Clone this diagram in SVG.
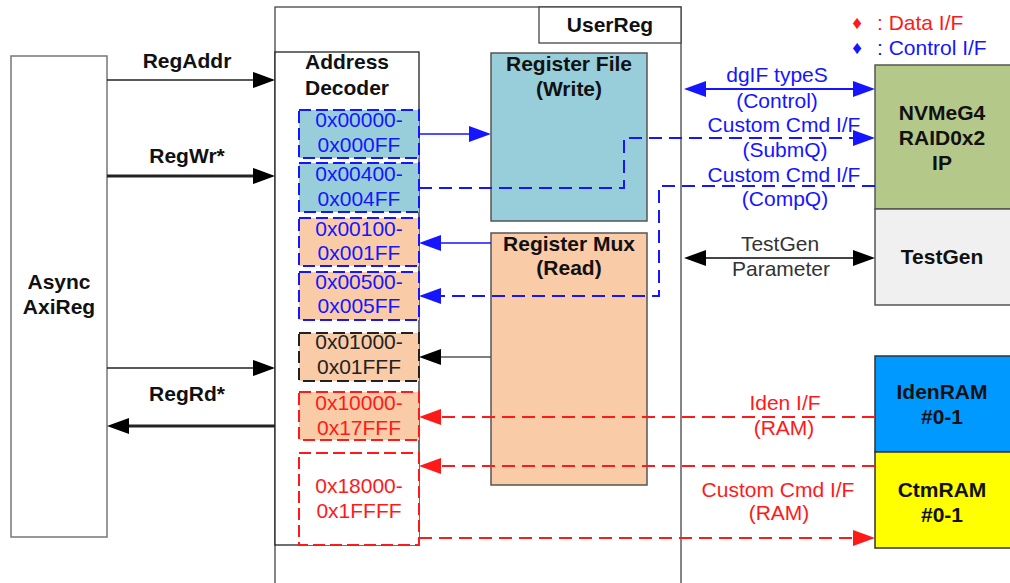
<svg xmlns="http://www.w3.org/2000/svg" width="1010" height="583" viewBox="0 0 1010 583">
<defs>
<style>
text{font-family:"Liberation Sans",Arial,sans-serif;font-size:21px}
.b{font-weight:bold;fill:#111}
.blue{fill:#1515FF}
.red{fill:#FF1A1A}
.gray{fill:#333}
.mid{text-anchor:middle}
.box{stroke:#555;stroke-width:1.5}
.lb{fill:#98CEDA}
.pe{fill:#FACBA7}
.dbb{stroke:#1515FF;stroke-width:2;stroke-dasharray:12,5;fill:none}
.dbk{stroke:#222;stroke-width:2;stroke-dasharray:12,5;fill:none}
.dbr{stroke:#FF1A1A;stroke-width:2;stroke-dasharray:12,5;fill:none}
.cb{stroke:#1515FF;fill:none}
.cr{stroke:#FF1A1A;fill:none}
.ck{stroke:#222;fill:none}
.dash{stroke-width:2;stroke-dasharray:13,7}
</style>
<marker id="ak" markerUnits="userSpaceOnUse" markerWidth="22" markerHeight="16" refX="12" refY="8" orient="auto-start-reverse"><path d="M0,0 L22,8 L0,16 z" fill="#000"/></marker>
<marker id="ab" markerUnits="userSpaceOnUse" markerWidth="22" markerHeight="16" refX="12" refY="8" orient="auto-start-reverse"><path d="M0,0 L22,8 L0,16 z" fill="#1515FF"/></marker>
<marker id="ar" markerUnits="userSpaceOnUse" markerWidth="22" markerHeight="16" refX="12" refY="8" orient="auto-start-reverse"><path d="M0,0 L22,8 L0,16 z" fill="#FF1A1A"/></marker>
</defs>
<rect width="1010" height="583" fill="#fff"/>

<g id="legend">
<text x="857" y="29" class="red mid" style="font-size:19px">♦</text>
<text x="877" y="30" class="red">: Data I/F</text>
<text x="857" y="54" class="blue mid" style="font-size:19px">♦</text>
<text x="877" y="55" class="blue">: Control I/F</text>
</g>

<g id="asyncaxireg">
<rect x="11" y="56" width="96" height="481" fill="#fff" stroke="#777" stroke-width="1.5"/>
<text x="59" y="289" class="b mid">Async</text>
<text x="59" y="314" class="b mid">AxiReg</text>
</g>

<g id="userreg">
<rect x="275" y="7" width="406" height="600" fill="#fff" stroke="#444" stroke-width="1.3"/>
<rect x="539" y="7" width="142" height="36" fill="#fff" stroke="#444" stroke-width="1.3"/>
<text x="610" y="32" class="b mid">UserReg</text>
</g>

<g id="addressdecoder">
<rect x="275" y="52" width="144" height="493" fill="#fff" stroke="#222" stroke-width="1.3"/>
<text x="347" y="69" class="b mid">Address</text>
<text x="347" y="95" class="b mid">Decoder</text>
</g>

<g id="addr00000">
<rect x="299" y="110" width="120" height="48" class="lb"/>
<rect x="299" y="110" width="120" height="48" class="dbb"/>
<text x="359" y="127" class="blue mid">0x00000-</text>
<text x="359" y="152" class="blue mid">0x000FF</text>
</g>
<g id="addr00400">
<rect x="299" y="163" width="120" height="49" class="lb"/>
<rect x="299" y="163" width="120" height="49" class="dbb"/>
<text x="359" y="181" class="blue mid">0x00400-</text>
<text x="359" y="206" class="blue mid">0x004FF</text>
</g>
<g id="addr00100">
<rect x="299" y="218" width="120" height="48" class="pe"/>
<rect x="299" y="218" width="120" height="48" class="dbb"/>
<text x="359" y="236" class="blue mid">0x00100-</text>
<text x="359" y="260" class="blue mid">0x001FF</text>
</g>
<g id="addr00500">
<rect x="299" y="272" width="120" height="48" class="pe"/>
<rect x="299" y="272" width="120" height="48" class="dbb"/>
<text x="359" y="289" class="blue mid">0x00500-</text>
<text x="359" y="313" class="blue mid">0x005FF</text>
</g>
<g id="addr01000">
<rect x="299" y="333" width="120" height="48" class="pe"/>
<rect x="299" y="333" width="120" height="48" class="dbk"/>
<text x="359" y="349" class="mid" style="fill:#222">0x01000-</text>
<text x="359" y="374" class="mid" style="fill:#222">0x01FFF</text>
</g>
<g id="addr10000">
<rect x="299" y="392" width="120" height="48" class="pe"/>
<rect x="299" y="392" width="120" height="48" class="dbr"/>
<text x="359" y="410" class="red mid">0x10000-</text>
<text x="359" y="435" class="red mid">0x17FFF</text>
</g>
<g id="addr18000">
<rect x="299" y="453" width="120" height="92" fill="#fff"/>
<rect x="299" y="453" width="120" height="92" class="dbr"/>
<text x="359" y="493" class="red mid">0x18000-</text>
<text x="359" y="518" class="red mid">0x1FFFF</text>
</g>

<g id="registerfile">
<rect x="491" y="53" width="156" height="168" class="box lb"/>
<text x="569" y="71" class="b mid">Register File</text>
<text x="569" y="96" class="b mid">(Write)</text>
</g>

<g id="registermux">
<rect x="491" y="233" width="156" height="252" class="box pe"/>
<text x="569" y="251" class="b mid">Register Mux</text>
<text x="569" y="275" class="b mid">(Read)</text>
</g>

<g id="nvme">
<rect x="875" y="65" width="140" height="144" fill="#B4C88A" stroke="#555" stroke-width="1.5"/>
<text x="942" y="120" class="b mid">NVMeG4</text>
<text x="942" y="145" class="b mid">RAID0x2</text>
<text x="942" y="170" class="b mid">IP</text>
</g>

<g id="testgen">
<rect x="875" y="209" width="140" height="96" fill="#F0F0F0" stroke="#555" stroke-width="1.5"/>
<text x="942" y="264" class="b mid">TestGen</text>
</g>

<g id="idenram">
<rect x="875" y="356" width="140" height="96" fill="#0099FF" stroke="#333" stroke-width="1.5"/>
<text x="942" y="399" class="b mid">IdenRAM</text>
<text x="942" y="424" class="b mid">#0-1</text>
</g>

<g id="ctmram">
<rect x="875" y="452" width="140" height="96" fill="#FFFF00" stroke="#333" stroke-width="1.5"/>
<text x="942" y="497" class="b mid">CtmRAM</text>
<text x="942" y="522" class="b mid">#0-1</text>
</g>

<g id="connectors">
<path d="M107,80 H265" class="ck" stroke-width="1.5" marker-end="url(#ak)"/>
<path d="M107,176 H265" class="ck" stroke-width="2.8" marker-end="url(#ak)"/>
<path d="M107,368 H265" class="ck" stroke-width="1.5" marker-end="url(#ak)"/>
<path d="M275,426 H117" class="ck" stroke-width="2.8" marker-end="url(#ak)"/>
<path d="M419,134 H481" class="cb" stroke-width="1.5" marker-end="url(#ab)"/>
<path d="M491,243 H429" class="cb" stroke-width="1.5" marker-end="url(#ab)"/>
<path d="M491,357 H429" stroke="#555" fill="none" stroke-width="1.5" marker-end="url(#ak)"/>
<path d="M694,89 H865" class="cb" stroke-width="2" marker-start="url(#ab)" marker-end="url(#ab)"/>
<path d="M419,188 H624 V138 H865" class="cb dash" marker-end="url(#ab)"/>
<path d="M875,186 H659 V296 H429" class="cb dash" marker-end="url(#ab)"/>
<path d="M694,258 H865" stroke="#444" fill="none" stroke-width="2" marker-start="url(#ak)" marker-end="url(#ak)"/>
<path d="M875,417 H429" class="cr dash" marker-end="url(#ar)"/>
<path d="M875,466 H429" class="cr dash" marker-end="url(#ar)"/>
<path d="M419,538 H865" class="cr dash" marker-end="url(#ar)"/>
<text x="187" y="68" class="b mid">RegAddr</text>
<text x="187" y="163" class="b mid">RegWr*</text>
<text x="187" y="401" class="b mid">RegRd*</text>
<text x="777" y="82" class="blue mid">dgIF typeS</text>
<text x="777" y="108" class="blue mid">(Control)</text>
<text x="784" y="132" class="blue mid">Custom Cmd I/F</text>
<text x="785" y="157" class="blue mid">(SubmQ)</text>
<text x="784" y="182" class="blue mid">Custom Cmd I/F</text>
<text x="785" y="206" class="blue mid">(CompQ)</text>
<text x="780" y="251" class="gray mid">TestGen</text>
<text x="781" y="276" class="gray mid">Parameter</text>
<text x="785" y="410" class="red mid">Iden I/F</text>
<text x="784" y="435" class="red mid">(RAM)</text>
<text x="778" y="497" class="red mid">Custom Cmd I/F</text>
<text x="779" y="520" class="red mid">(RAM)</text>
</g>
</svg>
